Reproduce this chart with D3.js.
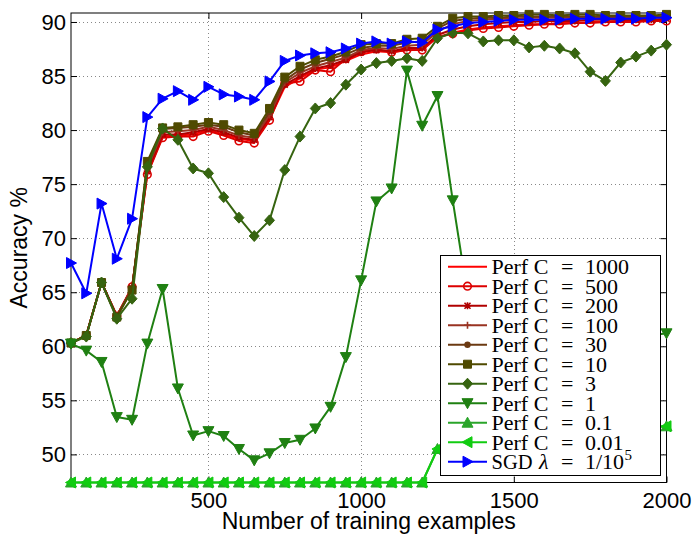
<!DOCTYPE html>
<html><head><meta charset="utf-8">
<script src="https://cdn.jsdelivr.net/npm/d3@7"></script>
<style>body{margin:0;background:#fff}svg{display:block}</style>
</head><body><svg id="c" width="696" height="543"></svg>
<script>
const trainingExamples = [50,100,150,200,250,300,350,400,450,500,550,600,650,700,750,800,850,900,950,1000,
  1050,1100,1150,1200,1250,1300,1350,1400,1450,1500,1550,1600,1650,1700,1750,1800,1850,1900,1950,2000];

const perfC1000 = [60.3,61.0,65.9,62.8,65.4,76.0,79.4,79.5,79.6,80.0,79.6,79.2,79.0,81.0,84.0,84.8,85.6,85.8,86.4,87.0,
  87.3,87.2,87.4,87.4,88.6,89.0,89.3,89.5,89.6,89.7,89.8,89.8,89.9,89.9,90.0,90.0,90.1,90.1,90.1,90.2];
const perfC500 = [60.3,61.0,65.9,62.8,65.5,75.9,79.3,79.4,79.4,79.9,79.5,79.0,78.8,80.9,84.3,84.5,85.55,85.4,86.6,87.25,
  87.5,87.2,87.4,87.4,88.6,88.9,89.2,89.4,89.5,89.6,89.7,89.8,89.8,89.9,89.9,90.0,90.0,90.0,90.1,90.1];
const perfC200 = [60.3,61.0,65.9,62.8,65.4,76.2,79.6,79.6,79.8,80.1,79.8,79.3,79.1,81.2,84.2,85.0,85.7,86.0,86.5,87.2,
  87.4,87.3,87.6,87.6,88.8,89.3,89.6,89.8,89.9,90.0,90.0,90.1,90.1,90.1,90.2,90.2,90.2,90.2,90.2,90.3];
const perfC100 = [60.3,61.0,65.9,62.8,65.4,76.5,79.8,79.9,80.0,80.3,80.0,79.5,79.3,81.4,84.4,85.3,85.9,86.3,86.7,87.4,
  87.6,87.5,87.8,87.9,89.1,89.8,90.1,90.2,90.3,90.3,90.4,90.4,90.4,90.4,90.4,90.4,90.4,90.4,90.4,90.5];
const perfC30 = [60.3,61.0,65.9,62.7,65.3,76.9,80.1,80.2,80.3,80.5,80.3,79.8,79.5,81.7,84.6,85.6,86.2,86.6,87.0,87.6,
  87.8,87.8,88.1,88.2,89.4,90.1,90.3,90.4,90.4,90.5,90.5,90.5,90.5,90.5,90.5,90.5,90.5,90.5,90.5,90.5];
const perfC10 = [60.3,61.0,65.9,62.7,65.2,77.1,80.2,80.3,80.5,80.7,80.5,80.0,79.7,82.0,84.9,85.9,86.5,86.8,87.25,87.9,
  88.0,88.0,88.4,88.5,89.6,90.35,90.5,90.5,90.6,90.6,90.7,90.7,90.6,90.7,90.7,90.6,90.6,90.6,90.6,90.7];
const perfC3 = [60.3,60.9,65.9,62.55,64.4,76.6,80.15,79.1,76.45,76.0,73.8,71.9,70.2,71.65,76.3,79.4,82.0,82.5,84.2,85.6,
  86.2,86.4,86.65,86.4,88.5,89.0,88.95,88.2,88.3,88.3,87.65,87.8,87.55,87.1,85.4,84.55,86.25,86.8,87.35,87.9];
const perfC1 = [60.25,59.6,58.55,53.45,53.2,60.25,65.3,56.1,51.75,52.15,51.7,50.5,49.45,50.1,51.05,51.35,52.4,54.4,59.0,66.1,
  73.4,74.6,85.5,80.4,83.15,73.5,64.5,61.0,59.5,58.5,58.0,57.5,58.0,58.5,59.0,59.5,60.0,60.5,61.0,61.2];
const perfC01 = [47.4,47.4,47.4,47.4,47.4,47.4,47.4,47.4,47.4,47.4,47.4,47.4,47.4,47.4,47.4,47.4,47.4,47.4,47.4,47.4,
  47.4,47.4,47.4,47.4,50.5,51.0,51.3,51.5,51.7,51.8,51.9,52.0,52.1,52.2,52.3,52.3,52.4,52.5,52.5,52.6];
const perfC001 = [47.4,47.4,47.4,47.4,47.4,47.4,47.4,47.4,47.4,47.4,47.4,47.4,47.4,47.4,47.4,47.4,47.4,47.4,47.4,47.4,
  47.4,47.4,47.4,47.4,50.5,51.0,51.3,51.5,51.7,51.8,51.9,52.0,52.1,52.2,52.3,52.3,52.4,52.5,52.5,52.6];
const sgd = [67.7,64.9,73.2,68.1,71.8,81.2,82.9,83.6,82.8,84.0,83.3,83.1,82.8,84.5,86.4,86.9,87.1,87.2,87.55,88.0,
  88.2,88.0,88.2,88.1,89.3,89.6,89.9,90.0,90.1,90.2,90.2,90.2,90.2,90.3,90.3,90.3,90.3,90.3,90.4,90.4];

const cValues = ["1000","500","200","100","30","10","3","1","0.1","0.01"];
const xTicks = [500,1000,1500,2000];
const yTicks = [50,55,60,65,70,75,80,85,90];

const series = [
  {values: perfC1000, color:"#ff0000", marker:"none"},
  {values: perfC500,  color:"#dd0000", marker:"o"},
  {values: perfC200,  color:"#b00000", marker:"x"},
  {values: perfC100,  color:"#993322", marker:"+"},
  {values: perfC30,   color:"#6b3a12", marker:"."},
  {values: perfC10,   color:"#4f4a00", marker:"s"},
  {values: perfC3,    color:"#366410", marker:"d"},
  {values: perfC1,    color:"#1f8012", marker:"v"},
  {values: perfC01,   color:"#2aa52a", marker:"^"},
  {values: perfC001,  color:"#11cc11", marker:"<"},
  {values: sgd,       color:"#0000ff", marker:">"}
];

const svg = d3.select("#c");
const L = 71, R = 666.5, T = 13, B = 482.5;
const x = d3.scaleLinear().domain([50,2000]).range([L,R]);
const y = d3.scaleLinear().domain([47.4,90.83]).range([B,T]);

// grid
const grid = svg.append("g").attr("stroke","#888").attr("stroke-width",1).attr("stroke-dasharray","1,3");
grid.selectAll("line.v").data(xTicks.filter(t=>t<2000)).enter().append("line")
  .attr("x1",d=>Math.round(x(d))+0.5).attr("x2",d=>Math.round(x(d))+0.5).attr("y1",T).attr("y2",B);
grid.selectAll("line.h").data(yTicks).enter().append("line")
  .attr("y1",d=>Math.round(y(d))+0.5).attr("y2",d=>Math.round(y(d))+0.5).attr("x1",L).attr("x2",R);

// axes
const fontSans = "'Liberation Sans', Arial, sans-serif";
function styleAxis(g, labels){
  g.select(".domain").remove();
  g.selectAll(".tick line").attr("stroke","#000");
  g.selectAll("text").attr("font-family",fontSans).attr("font-size",22).attr("fill","#000");
  if(!labels) g.selectAll("text").remove();
}
const fmt = d3.format("d");
svg.append("g").attr("transform",`translate(0,${B})`)
  .call(d3.axisBottom(x).tickValues(xTicks).tickFormat(fmt).tickSizeInner(-6).tickSizeOuter(0).tickPadding(10))
  .call(g=>styleAxis(g,true));
svg.append("g").attr("transform",`translate(0,${T})`)
  .call(d3.axisTop(x).tickValues(xTicks).tickSizeInner(-6).tickSizeOuter(0))
  .call(g=>styleAxis(g,false));
svg.append("g").attr("transform",`translate(${L},0)`)
  .call(d3.axisLeft(y).tickValues(yTicks).tickFormat(fmt).tickSizeInner(-6).tickSizeOuter(0).tickPadding(5))
  .call(g=>styleAxis(g,true));
svg.append("g").attr("transform",`translate(${R},0)`)
  .call(d3.axisRight(y).tickValues(yTicks).tickSizeInner(-6).tickSizeOuter(0))
  .call(g=>styleAxis(g,false));
svg.append("rect").attr("x",L).attr("y",T).attr("width",R-L).attr("height",B-T)
  .attr("fill","none").attr("stroke","#000").attr("stroke-width",1);

// titles
svg.append("text").attr("x",(L+R)/2).attr("y",529).attr("text-anchor","middle")
  .attr("font-family",fontSans).attr("font-size",23).text("Number of training examples");
svg.append("text").attr("transform",`translate(27,${(T+B)/2}) rotate(-90)`).attr("text-anchor","middle")
  .attr("font-family",fontSans).attr("font-size",23).text("Accuracy %");

// marker path generator
function markerPath(type){
  switch(type){
    case "s": return "M-4,-4L4,-4L4,4L-4,4Z";
    case "d": return "M0,-5.5L5,0L0,5.5L-5,0Z";
    case "v": return "M-5.5,-4.5L5.5,-4.5L0,5.5Z";
    case "^": return "M-5.5,4.5L5.5,4.5L0,-5.5Z";
    case "<": return "M4.5,-5.5L4.5,5.5L-5.5,0Z";
    case ">": return "M-4.5,-5.5L-4.5,5.5L5.5,0Z";
    case "+": return "M-3.5,0L3.5,0M0,-3.5L0,3.5";
    case "x": return "M-3,-3L3,3M-3,3L3,-3M-3.5,0L3.5,0M0,-3.5L0,3.5";
    default: return "";
  }
}
function drawMarker(g, type, color){
  if(type==="none") return;
  if(type==="o"){
    g.append("circle").attr("r",3.8).attr("fill","none").attr("stroke",color).attr("stroke-width",1.6);
  } else if(type==="."){
    g.append("circle").attr("r",3.2).attr("fill",color);
  } else if(type==="+"||type==="x"){
    g.append("path").attr("d",markerPath(type)).attr("stroke",color).attr("stroke-width",1.6).attr("fill","none");
  } else {
    g.append("path").attr("d",markerPath(type)).attr("fill",color).attr("stroke",color).attr("stroke-width",1);
  }
}

const line = d3.line().x((d,i)=>x(trainingExamples[i])).y(d=>y(d));
series.forEach(s=>{
  const g = svg.append("g");
  g.append("path").attr("d",line(s.values)).attr("fill","none").attr("stroke",s.color)
    .attr("stroke-width",2).attr("stroke-linejoin","round");
  s.values.forEach((v,i)=>{
    const m = g.append("g").attr("transform",`translate(${x(trainingExamples[i])},${y(v)})`);
    drawMarker(m, s.marker, s.color);
  });
});

// legend
const lg = svg.append("g");
lg.append("rect").attr("x",440.5).attr("y",255.5).attr("width",220).attr("height",220)
  .attr("fill","#fff").attr("stroke","#000").attr("stroke-width",1);
const fontSerif = "'Liberation Serif', 'DejaVu Serif', serif";
function legendText(px, py, str, size, italic){
  return lg.append("text").attr("x",px).attr("y",py).style("font-family",fontSerif)
    .style("font-size",size+"px").style("font-style",italic?"italic":"normal").attr("fill","#000").text(str);
}
series.forEach((s,i)=>{
  const cy = 266.7 + i*19.5;
  lg.append("line").attr("x1",448).attr("x2",487).attr("y1",cy).attr("y2",cy)
    .attr("stroke",s.color).attr("stroke-width",2);
  drawMarker(lg.append("g").attr("transform",`translate(467.5,${cy})`), s.marker, s.color);
  const by = cy + 7.5;
  if(i < cValues.length){
    legendText(491.5, by, "Perf C", 22);
    legendText(561, by, "=", 22);
    legendText(585, by, cValues[i], 22);
  } else {
    legendText(491.5, by, "SGD", 22).attr("textLength",41).attr("lengthAdjust","spacingAndGlyphs");
    legendText(539, by, "λ", 22, true);
    legendText(561, by, "=", 22);
    legendText(585, by, "1/10", 22);
    legendText(624.5, by - 9, "5", 15);
  }
});
</script></body></html>
